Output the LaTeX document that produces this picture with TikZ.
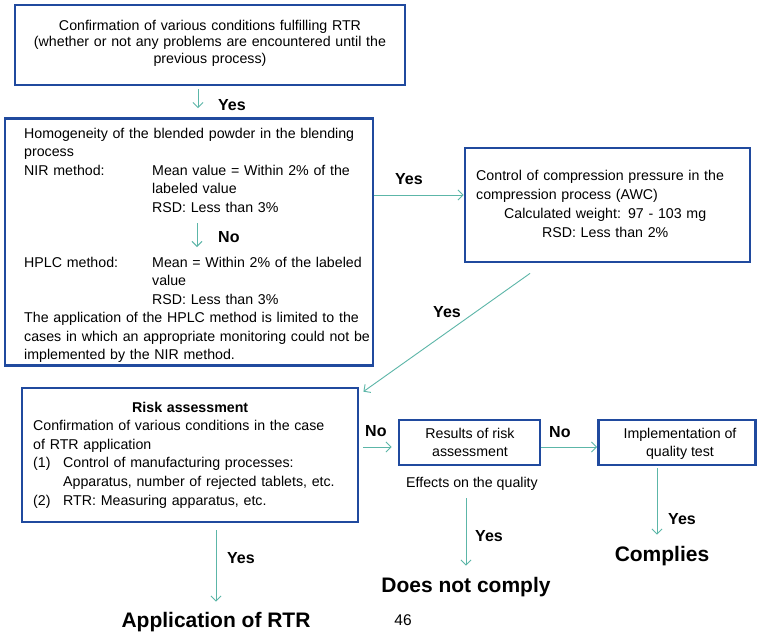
\documentclass[tikz,border=0pt]{standalone}
\usepackage{fontspec}
\setmainfont{Liberation Sans}
\usetikzlibrary{arrows.meta,calc}
\definecolor{boxblue}{RGB}{32,74,158}
\definecolor{arrteal}{RGB}{92,182,168}
\begin{document}
\begin{tikzpicture}[x=1pt,y=-1pt,
  box/.style={draw=boxblue, line width=2.8pt, inner sep=0pt},
  txt/.style={inner sep=0pt, font=\fontsize{14.2}{18.6}\selectfont},
  lbl/.style={inner sep=0pt, anchor=base west, font=\fontsize{16}{18}\selectfont\bfseries},
  big/.style={inner sep=0pt, anchor=base, font=\fontsize{21}{24}\selectfont\bfseries},
  arr/.style={draw=arrteal, line width=0.9pt, -{Straight Barb[length=5pt,width=10pt]}},
]
\useasboundingbox[fill=white] (0,0) rectangle (759,635);

% boxes
\node[box, minimum width=390, minimum height=80] (b1) at (210,45) {};
\node[box, minimum width=368, minimum height=247] (b2) at (189,242) {};
\node[box, minimum width=285, minimum height=114] (b3) at (607.5,205) {};
\node[box, minimum width=336, minimum height=134] (b4) at (190,455) {};
\node[box, minimum width=141, minimum height=45] (b5) at (469.5,442.5) {};
\node[box, minimum width=157, minimum height=45] (b6) at (677,442.5) {};

% texts
\node[txt, align=center, text width=385, anchor=base, font=\fontsize{14.2}{16.8}\selectfont] (t1) at (210,30)
  {Confirmation of various conditions fulfilling RTR\\(whether or not any problems are encountered until the\\previous process)};

\node[txt, align=left, text width=355, anchor=base west] (nir) at (24,138)
  {Homogeneity of the blended powder in the blending\\process\\
   \makebox[128pt][l]{NIR method:}Mean value = Within 2\% of the\\
   \hspace*{128pt}labeled value\\
   \hspace*{128pt}RSD: Less than 3\%};

\node[txt, align=left, text width=355, anchor=base west, font=\fontsize{14.2}{18.5}\selectfont] (hplc) at (24,267)
  {\makebox[128pt][l]{HPLC method:}Mean = Within 2\% of the labeled\\
   \hspace*{128pt}value\\
   \hspace*{128pt}RSD: Less than 3\%\\
   The application of the HPLC method is limited to the\\
   cases in which an appropriate monitoring could not be\\
   implemented by the NIR method.};

\node[txt, align=left, text width=270, anchor=base west, font=\fontsize{14.2}{19}\selectfont] (t3) at (476,180)
  {Control of compression pressure in the\\
   compression process (AWC)\\
   \makebox[258pt][c]{Calculated weight: 97 - 103 mg}\\
   \makebox[258pt][c]{RSD: Less than 2\%}};

\node[txt, align=left, text width=322, anchor=base west] (t4) at (33,412)
  {\makebox[314pt][c]{\bfseries Risk assessment}\\
   Confirmation of various conditions in the case\\
   of RTR application\\
   \makebox[30pt][l]{(1)}Control of manufacturing processes:\\
   \hspace*{30pt}Apparatus, number of rejected tablets, etc.\\
   \makebox[30pt][l]{(2)}RTR: Measuring apparatus, etc.};

\node[txt, align=center, anchor=base, font=\fontsize{14.2}{18}\selectfont] (t5) at (470,456) {Results of risk\\assessment};
\node[txt, align=center, anchor=base, font=\fontsize{14.2}{18}\selectfont] (t6) at (680,456) {Implementation of\\quality test};
\node[txt, anchor=base] (eff) at (472,487) {Effects on the quality};

\node[big] (app) at (216,627) {Application of RTR};
\node[big] (dnc) at (466,592) {Does not comply};
\node[big] (cmp) at (662,561) {Complies};
\node[txt, anchor=base, font=\fontsize{15.5}{18}\selectfont] (pg) at (403,625) {46};

% connectors
\draw[arr] ($(b1.south)+(-12,3)$) -- ($(b2.north)+(9,-9)$);
\draw[arr] ($(nir.base west)+(173,85)$) -- ($(hplc.base west)+(173,-20)$);
\coordinate (a3e) at ($(b3.west)+(0,-10)$);
\draw[arr] (b2.east |- a3e) -- (a3e);
\draw[arr] ($(b3.south)+(-77.5,10)$) -- ($(b4.north east)+(4,5)$);
\coordinate (a5e) at ($(b5.west)+(-6,4.5)$);
\draw[arr] ($(b4.east |- a5e)+(4,0)$) -- (a5e);
\draw[arr] ($(b5.east)+(0,4.5)$) -- ($(b6.west)+(0,4.5)$);
\draw[arr] ($(eff.south -| dnc.north)+(0,8)$) -- ($(dnc.north)+(0,-11)$);
\draw[arr] ($(b6.south)+(-20,2)$) -- ($(cmp.north)+(-5,-11)$);
\draw[arr] ($(b4.south)+(26,7)$) -- ($(app.north)+(0,-10)$);

% labels
\node[lbl] (l1) at (218,110) {Yes};
\node[lbl] (l2) at (218,242.5) {No};
\node[lbl] (l3) at (395,184) {Yes};
\node[lbl] (l4) at (433,317) {Yes};
\node[lbl] (l5) at (365,436) {No};
\node[lbl] (l6) at (549,437) {No};
\node[lbl] (l7) at (475,541) {Yes};
\node[lbl] (l8) at (668,524) {Yes};
\node[lbl] (l9) at (227,563) {Yes};
\end{tikzpicture}
\end{document}
